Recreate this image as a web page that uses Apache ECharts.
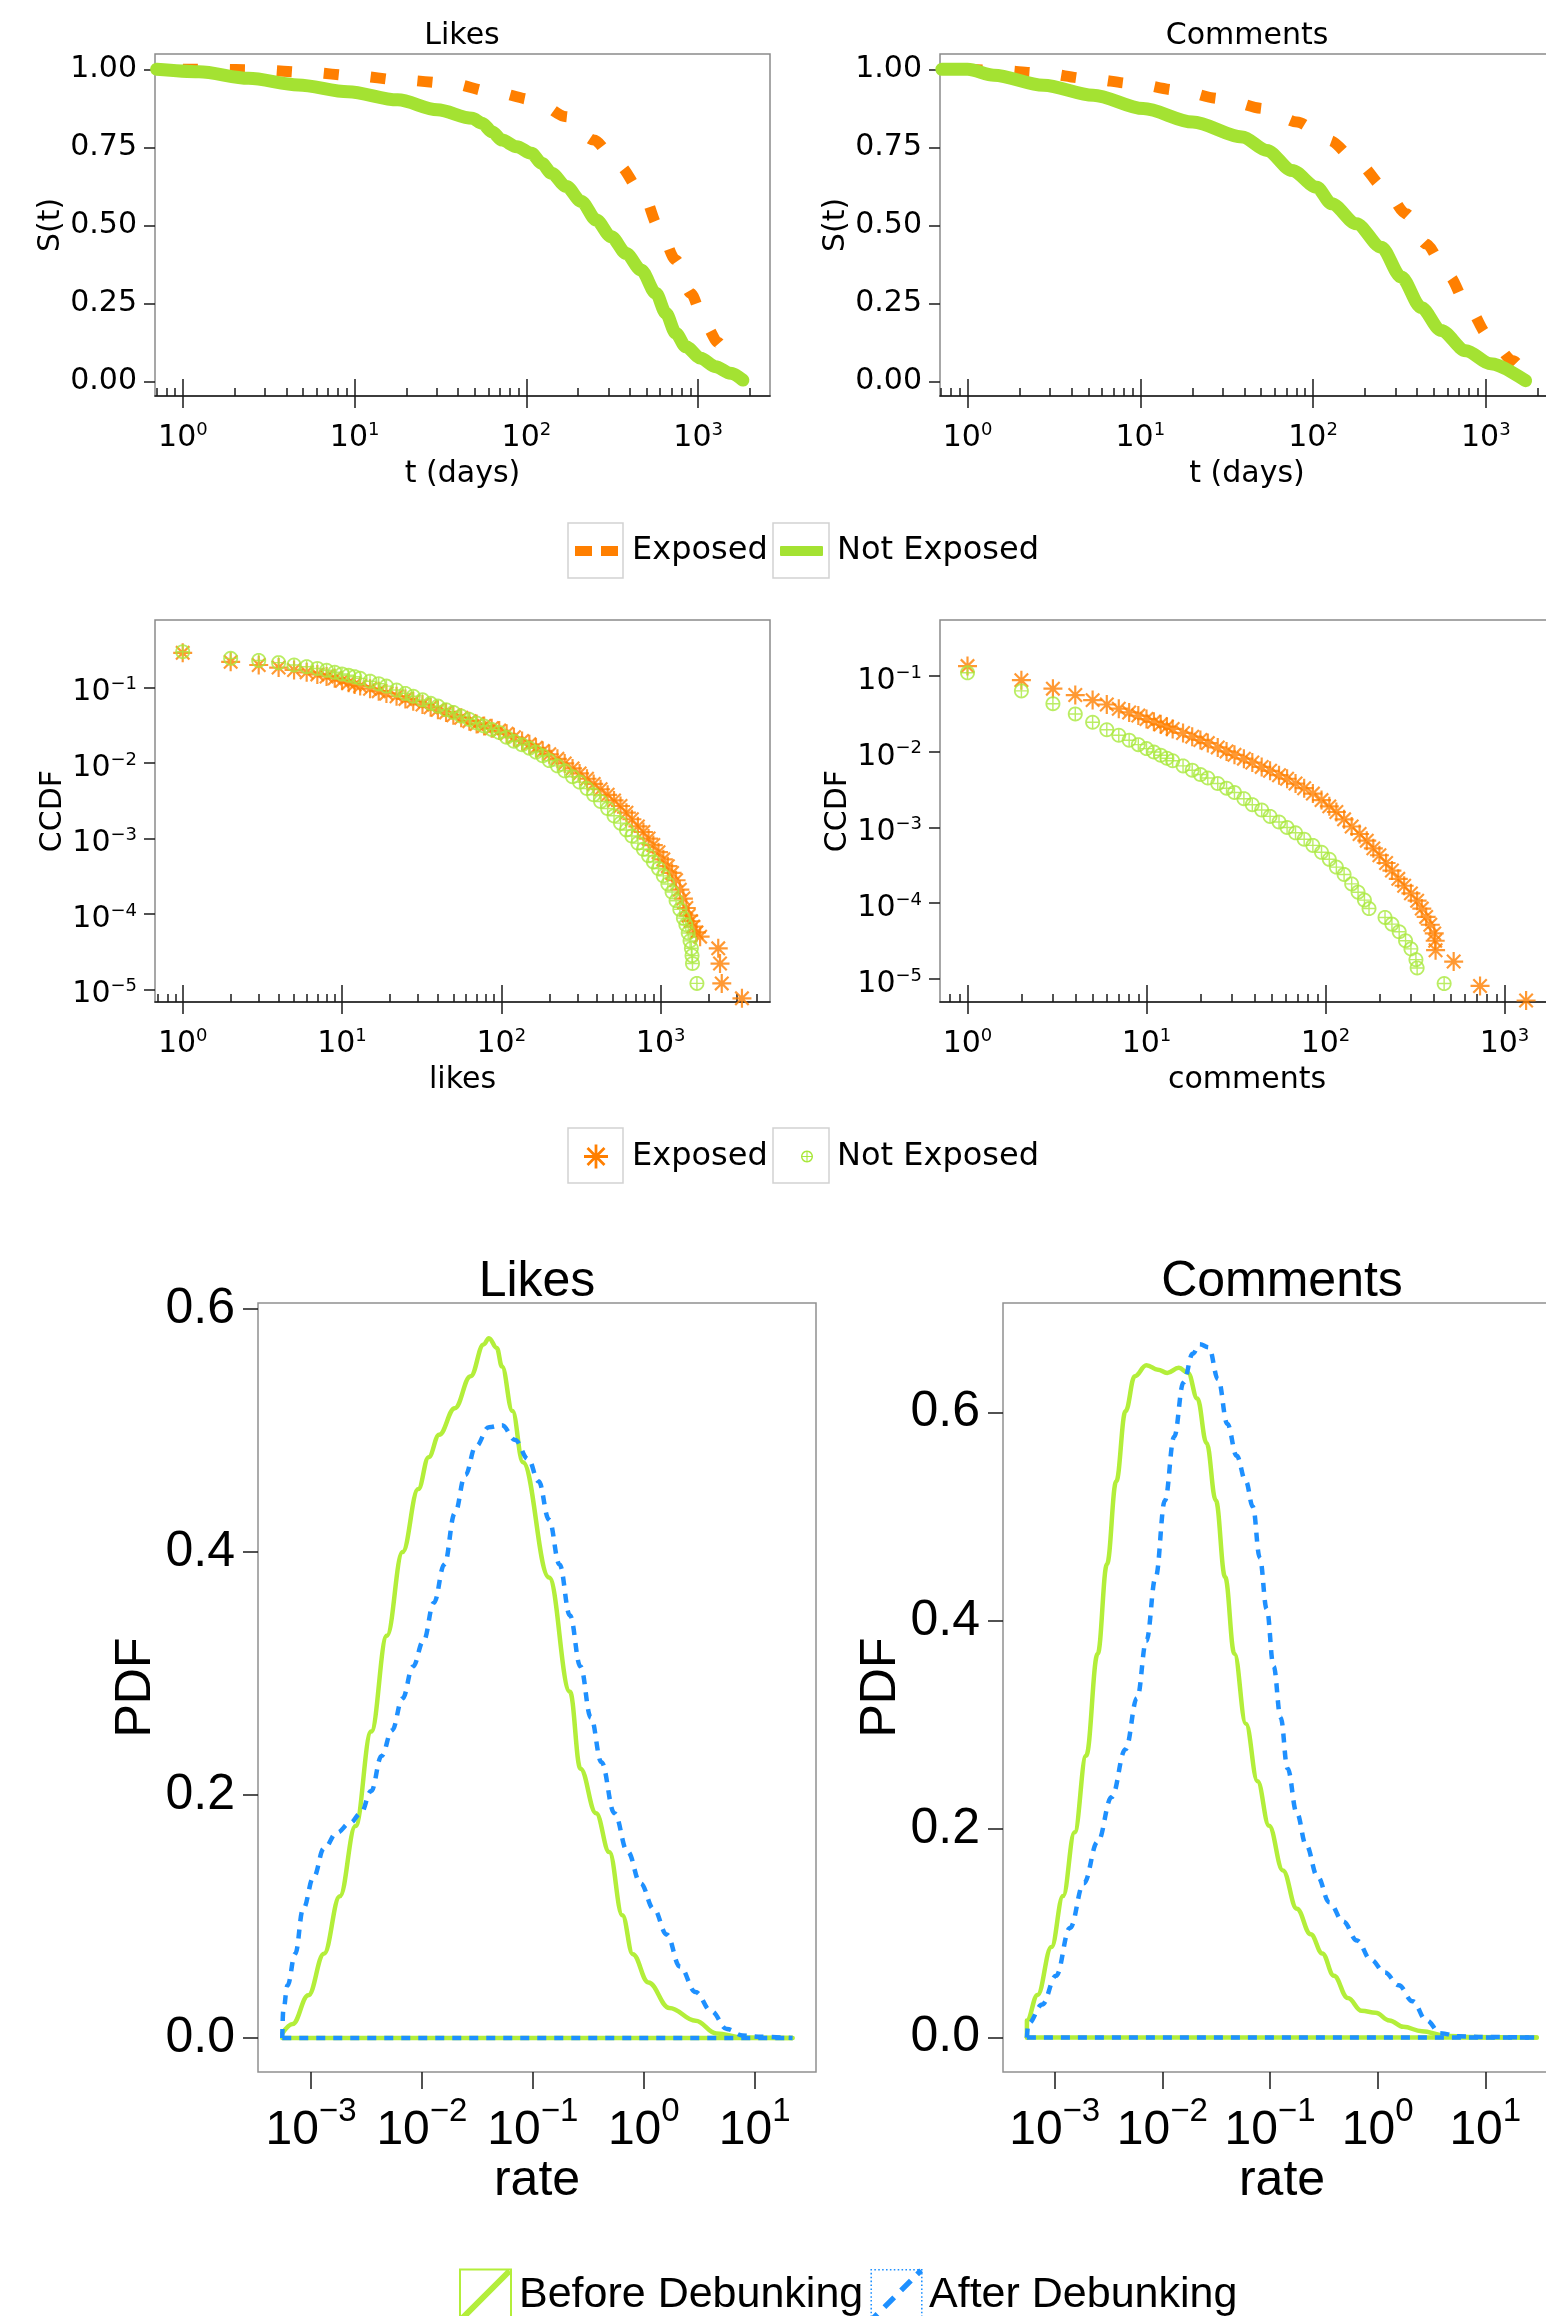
<!DOCTYPE html>
<html><head><meta charset="utf-8">
<script src="https://cdn.jsdelivr.net/npm/echarts@6/dist/echarts.min.js"></script>
<style>html,body{margin:0;padding:0;background:#fff}#c{width:1546px;height:2316px}</style>
</head><body><div id="c"></div>
<script>
// ================= DATA =================
const panelTitles = ['Likes', 'Comments'];
const survivalNames = ['Exposed', 'Not Exposed'];
const ccdfNames = ['Exposed (CCDF)', 'Not Exposed (CCDF)'];
const pdfNames = ['Before Debunking', 'After Debunking'];
const survivalYTicks = [0, 0.25, 0.5, 0.75, 1];
const topXExponents = [0, 1, 2, 3];
const ccdfYExponents = [-5, -4, -3, -2, -1];
const pdfXExponents = [-3, -2, -1, 0, 1];
const pdfYTicks = [0, 0.2, 0.4, 0.6];

// S(t) survival curves  [t (days), S(t)]
const survLikesExposed = [[1.0,1.0],[1.5,1.0],[2.76,0.998],[5.37,0.99],[10.1,0.979],[18.4,0.966],[35.8,0.955],[63,0.928],[111,0.902],[171,0.848],[247,0.773],[344,0.693],[481,0.597],[587,0.496],[741,0.389],[904,0.282],[1106,0.18],[1306,0.125],[1492,0.074],[1649,0.015]];
const survLikesNotExposed = [[0.703,1.0],[1.24,0.992],[2.41,0.971],[4.69,0.95],[9.14,0.928],[17.8,0.902],[30.3,0.87],[48.3,0.843],[55.2,0.827],[63.1,0.80],[72,0.773],[87.9,0.752],[107,0.731],[122.7,0.699],[140,0.667],[171,0.624],[209,0.576],[255,0.517],[312,0.463],[381,0.41],[465,0.357],[568,0.282],[649,0.218],[741,0.154],[847,0.111],[1035,0.074],[1262,0.047],[1543,0.026],[1821,0.004]];
const survCommentsExposed = [[1.0,1.0],[1.47,0.997],[2.66,0.988],[5.0,0.97],[9.1,0.954],[16.5,0.933],[28.9,0.906],[52.5,0.874],[80.7,0.831],[124,0.772],[185,0.697],[257,0.622],[346,0.537],[451,0.44],[608,0.339],[792,0.237],[1032,0.147],[1438,0.066],[1754,0.002]];
const survCommentsNotExposed = [[0.71,1.0],[1.0,1.0],[1.42,0.981],[2.75,0.949],[5.34,0.917],[10.4,0.874],[20.1,0.831],[38.9,0.783],[54,0.74],[75.5,0.676],[105,0.622],[128,0.569],[178,0.505],[248,0.43],[324,0.334],[422,0.237],[550,0.163],[766,0.098],[1067,0.056],[1698,0.002]];

// CCDF  [count, CCDF]
const ccdfLikesExposed = [[1,0.29],[2,0.22],[3,0.2],[4,0.185],[5,0.172],[6,0.16],[7,0.15],[8,0.141],[9,0.133],[10,0.124],[11,0.116],[12,0.11],[13,0.105],[15,0.097],[17,0.09],[19,0.084],[22,0.077],[25,0.071],[28,0.066],[32,0.06],[36,0.055],[40,0.051],[45,0.047],[50,0.043],[56,0.04],[63,0.036],[70,0.033],[78,0.031],[87,0.029],[97,0.027],[108,0.0245],[120,0.022],[135,0.0197],[150,0.0178],[165,0.016],[182,0.0145],[200,0.0131],[225,0.0114],[250,0.0099],[280,0.0085],[310,0.0073],[345,0.0062],[380,0.0053],[420,0.0045],[465,0.0038],[510,0.0032],[560,0.0027],[610,0.0022],[660,0.0018],[720,0.00145],[780,0.00122],[840,0.001],[900,8.2e-4],[970,6.6e-4],[1040,5.3e-4],[1110,4.3e-4],[1180,3.5e-4],[1250,2.8e-4],[1320,2.1e-4],[1390,1.6e-4],[1450,1.2e-4],[1500,9.5e-5],[1550,8e-5],[1600,6.8e-5],[1680,5.7e-5],[1770,5e-5],[2300,3.5e-5],[2360,2.2e-5],[2420,1.2e-5],[3240,7.6e-6]];
const ccdfLikesNotExposed = [[1,0.30],[2,0.245],[3,0.23],[4,0.215],[5,0.2],[6,0.19],[7,0.18],[8,0.17],[9,0.16],[10,0.152],[11,0.146],[12,0.14],[13,0.133],[15,0.122],[17,0.113],[19,0.105],[22,0.093],[25,0.084],[28,0.077],[32,0.069],[36,0.062],[40,0.057],[45,0.051],[50,0.047],[56,0.042],[63,0.038],[70,0.034],[78,0.031],[87,0.028],[97,0.0255],[108,0.022],[120,0.0195],[135,0.0175],[150,0.0158],[165,0.014],[182,0.0125],[200,0.0108],[225,0.0092],[250,0.0079],[280,0.0066],[310,0.0056],[345,0.0046],[380,0.0038],[420,0.0031],[465,0.0025],[510,0.002],[560,0.0016],[610,0.0013],[660,0.00108],[720,8.7e-4],[780,7.2e-4],[840,5.9e-4],[900,4.9e-4],[970,4.0e-4],[1040,3.2e-4],[1110,2.5e-4],[1180,1.95e-4],[1250,1.5e-4],[1320,1.15e-4],[1390,8.8e-5],[1440,7.2e-5],[1490,5.6e-5],[1530,4.4e-5],[1560,3.5e-5],[1575,2.8e-5],[1585,2.2e-5],[1690,1.2e-5]];
const ccdfCommentsExposed = [[1,0.135],[2,0.088],[3,0.068],[4,0.056],[5,0.048],[6,0.042],[7,0.037],[8,0.033],[9,0.03],[10,0.027],[11,0.0248],[12,0.023],[13,0.0214],[14,0.02],[16,0.0177],[18,0.0158],[20,0.0143],[22,0.013],[25,0.0114],[28,0.0101],[31,0.0091],[35,0.0081],[39,0.0072],[44,0.0063],[49,0.0056],[55,0.0049],[61,0.0044],[68,0.0038],[76,0.0033],[85,0.0028],[95,0.0023],[105,0.0019],[115,0.0016],[127,0.00128],[140,0.00103],[155,8.2e-4],[170,6.7e-4],[185,5.3e-4],[200,4.3e-4],[218,3.4e-4],[235,2.7e-4],[255,2.1e-4],[275,1.7e-4],[300,1.35e-4],[325,1.08e-4],[345,8.5e-5],[365,6.6e-5],[385,5.2e-5],[405,4e-5],[410,3.2e-5],[412,2.4e-5],[520,1.7e-5],[730,8.1e-6],[1320,5.2e-6]];
const ccdfCommentsNotExposed = [[1,0.11],[2,0.0635],[3,0.043],[4,0.0315],[5,0.0245],[6,0.0195],[7,0.0165],[8,0.0142],[9,0.0124],[10,0.011],[11,0.0099],[12,0.009],[13,0.0082],[14,0.0076],[16,0.0065],[18,0.0057],[20,0.005],[22,0.0045],[25,0.0038],[28,0.0033],[31,0.0029],[35,0.0024],[39,0.002],[44,0.0017],[49,0.0014],[55,0.00118],[61,0.001],[68,8.5e-4],[76,7e-4],[85,5.8e-4],[95,4.7e-4],[105,3.8e-4],[115,3.0e-4],[127,2.4e-4],[140,1.8e-4],[152,1.4e-4],[165,1.1e-4],[175,8.5e-5],[215,6.5e-5],[235,5.3e-5],[258,4.2e-5],[280,3.2e-5],[300,2.5e-5],[320,1.8e-5],[325,1.4e-5],[460,8.7e-6]];

// PDF of rates  [rate, density]
const pdfLikesBefore = [[5.51e-4,0.0037],[6.84e-4,0.0116],[9.47e-4,0.0352],[1.31e-3,0.0694],[1.82e-3,0.1167],[2.52e-3,0.1744],[3.49e-3,0.2522],[4.83e-3,0.3311],[6.69e-3,0.400],[9.27e-3,0.4518],[0.0115,0.4781],[0.0143,0.4965],[0.0198,0.5184],[0.0275,0.5447],[0.036,0.5709],[0.0402,0.576],[0.0473,0.568],[0.0527,0.5527],[0.0655,0.516],[0.0813,0.474],[0.140,0.379],[0.216,0.285],[0.2686,0.2217],[0.372,0.185],[0.489,0.153],[0.641,0.101],[0.796,0.069],[1.10,0.0457],[1.70,0.0247],[2.93,0.0142],[4.53,0.0037],[7.8,0.0005],[21.9,0]];
const pdfLikesAfter = [[5.51e-4,0],[5.62e-4,0.0221],[6.14e-4,0.0431],[7.22e-4,0.0694],[8.49e-4,0.1061],[1.056e-3,0.1324],[1.31e-3,0.156],[1.72e-3,0.1692],[2.26e-3,0.1771],[2.81e-3,0.185],[3.49e-3,0.2033],[4.33e-3,0.2322],[5.38e-3,0.2532],[6.69e-3,0.2795],[8.31e-3,0.3058],[0.01033,0.3268],[0.01283,0.3583],[0.01595,0.3898],[0.0198,0.4319],[0.0246,0.4634],[0.0306,0.487],[0.0402,0.5028],[0.0527,0.5044],[0.0692,0.4923],[0.0908,0.4765],[0.1128,0.4582],[0.140,0.4266],[0.174,0.3898],[0.216,0.3478],[0.2686,0.3058],[0.334,0.2637],[0.415,0.227],[0.544,0.185],[0.715,0.1534],[0.938,0.1271],[1.231,0.1061],[1.615,0.0851],[2.115,0.0588],[2.93,0.0378],[4.06,0.0221],[5.62,0.0074],[7.8,0.0021],[10.8,0.001],[21.9,0]];
const pdfCommentsBefore = [[5.52e-4,0],[5.52e-4,0.0165],[6.93e-4,0.041],[9.33e-4,0.0869],[1.195e-3,0.1359],[1.531e-3,0.1971],[1.96e-3,0.2706],[2.51e-3,0.3685],[3.06e-3,0.4543],[3.73e-3,0.5338],[4.55e-3,0.6012],[5.55e-3,0.6348],[7.11e-3,0.6453],[9.1e-3,0.641],[0.0111,0.6379],[0.01422,0.6428],[0.01734,0.6379],[0.02113,0.6134],[0.02576,0.5706],[0.0314,0.5155],[0.0383,0.442],[0.0467,0.3685],[0.0597,0.3012],[0.0766,0.2461],[0.098,0.2033],[0.1318,0.1604],[0.1775,0.1237],[0.2388,0.0992],[0.306,0.0808],[0.3926,0.0594],[0.528,0.038],[0.711,0.0257],[0.957,0.0239],[1.288,0.0165],[1.733,0.0104],[2.576,0.0061],[4.23,0.0018],[6.93,0.0006],[30,0]];
const pdfCommentsAfter = [[5.52e-4,0],[5.69e-4,0.0135],[7.66e-4,0.0318],[1.03e-3,0.0594],[1.387e-3,0.1053],[1.866e-3,0.1482],[2.51e-3,0.188],[3.38e-3,0.2308],[4.55e-3,0.2767],[5.83e-3,0.3257],[7.11e-3,0.3808],[8.67e-3,0.442],[0.01057,0.5155],[0.01288,0.5767],[0.0157,0.6287],[0.01914,0.6563],[0.0222,0.6655],[0.02704,0.6624],[0.033,0.6318],[0.0402,0.5889],[0.049,0.5583],[0.0597,0.5338],[0.0693,0.5094],[0.0804,0.4604],[0.0933,0.4114],[0.108,0.3563],[0.1256,0.3073],[0.1456,0.2583],[0.1775,0.2155],[0.2163,0.1849],[0.2773,0.1543],[0.3554,0.1298],[0.479,0.1114],[0.644,0.0931],[0.867,0.0747],[1.167,0.0624],[1.57,0.0502],[2.113,0.0349],[2.844,0.0165],[3.83,0.0043],[5.69,0.0012],[10.3,0.0006],[30,0]];
const pdfLikesBaseline = [[5.51e-4,0],[21.9,0]];
const pdfCommentsBaseline = [[5.52e-4,0],[30,0]];

// ================= STYLE / LAYOUT =================
const ORANGE = '#ff7f00', GREEN_TOP = '#a4e232', GREEN_CCDF = '#a9e83c', GREEN_PDF = '#b3ee3a', BLUE = '#1e90ff';
const TOPF = 'DejaVu Sans', BOTF = 'Liberation Sans';
const TICK = {color:'#1a1a1a', width:1.5};
const lg = Math.log10;

const grids = [
  {left:155, top:54, width:615, height:342},
  {left:940, top:54, width:614, height:342},
  {left:155, top:620, width:615, height:382},
  {left:940, top:620, width:614, height:382},
  {left:258, top:1303, width:558, height:769},
  {left:1003, top:1303, width:558, height:769}
].map((g, i) => Object.assign({show:true, backgroundColor:'transparent', borderColor: i < 4 ? '#8a8a8a' : '#909090', borderWidth:1.5, containLabel:false, outerBoundsMode:'none'}, g));

const ranges = {
  x: [[0.688,2620],[0.693,2480],[0.670,4860],[0.702,1890],[3.33e-4,35.7],[3.31e-4,50.5]],
  y: [[-0.047,1.049],[-0.047,1.049],[6.8e-6,0.79],[4.97e-6,0.548],[-0.028,0.605],[-0.033,0.705]]
};

const supText = e => (e < 0 ? '\u2212' + (-e) : '' + e);
const powLabel = v => '{b|10}{s|' + supText(Math.round(v)) + '}';
const topRich = () => ({b:{fontFamily:TOPF,fontSize:30,lineHeight:34,color:'#000'}, s:{fontFamily:TOPF,fontSize:18,lineHeight:19,verticalAlign:'top',color:'#000'}});
const botRich = () => ({b:{fontFamily:BOTF,fontSize:48,lineHeight:72,color:'#000'}, s:{fontFamily:BOTF,fontSize:33,lineHeight:33,verticalAlign:'top',color:'#000'}});
function minorLog(lo, hi) {
  const out = [];
  for (let k = Math.floor(lg(lo)); k <= Math.ceil(lg(hi)); k++)
    for (let m = 2; m <= 9; m++) { const v = m * Math.pow(10, k); if (v > lo && v < hi) out.push(lg(v)); }
  return out;
}

const xAxes = [], yAxes = [], series = [];
const addX = o => (xAxes.push(o), xAxes.length - 1);
const addY = o => (yAxes.push(o), yAxes.length - 1);
const NOLINE = {show:false, onZero:false};
function decoX(g, lo, hi, opt) {
  return Object.assign({type:'value', gridIndex:g, min:lo, max:hi, position:'bottom', silent:true,
    splitLine:{show:false}, splitArea:{show:false}, axisLine:NOLINE, axisTick:{show:false}, axisLabel:{show:false}}, opt);
}
function decoY(g, lo, hi, opt) {
  return Object.assign({type:'value', gridIndex:g, min:lo, max:hi, position:'left', silent:true,
    splitLine:{show:false}, splitArea:{show:false}, axisLine:NOLINE, axisTick:{show:false}, axisLabel:{show:false}}, opt);
}
const topName = (t) => ({name:t, nameLocation:'middle', nameTextStyle:{fontFamily:TOPF, fontSize:30, lineHeight:30, color:'#000', fontWeight:'normal'}});

function logXTop(g, xName) {
  const xr = ranges.x[g], lo = lg(xr[0]), hi = lg(xr[1]);
  const xd = addX({type:'log', logBase:10, gridIndex:g, min:xr[0], max:xr[1], position:'bottom', show:false, axisLine:NOLINE});
  addX(decoX(g, lo, hi, Object.assign({
    axisLine:{show:true, onZero:false, lineStyle:{color:'#1a1a1a', width:1.6}},
    axisTick:{show:true, inside:false, length:12, customValues:topXExponents, lineStyle:TICK},
    axisLabel:{show:true, customValues:topXExponents, margin:25, formatter:powLabel, rich:topRich()},
    nameGap:63}, topName(xName))));
  addX(decoX(g, lo, hi, {axisTick:{show:true, inside:true, length:17, customValues:topXExponents, lineStyle:TICK}}));
  addX(decoX(g, lo, hi, {axisTick:{show:true, inside:true, length:8, customValues:minorLog(xr[0], xr[1]), lineStyle:TICK}}));
  return xd;
}

function survivalPanel(g, exposed, notExposed) {
  const xd = logXTop(g, 't (days)');
  const yr = ranges.y[g];
  const yd = addY(Object.assign({type:'value', gridIndex:g, min:yr[0], max:yr[1], position:'left', splitLine:{show:false},
    axisLine:NOLINE, axisTick:{show:true, inside:false, length:11, customValues:survivalYTicks, lineStyle:TICK},
    axisLabel:{show:true, customValues:survivalYTicks, margin:18, padding:[6,0,0,0], formatter:v => v.toFixed(2), fontFamily:TOPF, fontSize:30, color:'#000'},
    nameGap:83}, topName('S(t)')));
  series.push({name:survivalNames[0], type:'line', xAxisIndex:xd, yAxisIndex:yd, data:exposed, symbol:'none', showSymbol:false,
    smooth:0.3, smoothMonotone:'x', itemStyle:{color:ORANGE}, lineStyle:{color:ORANGE, width:11, type:[15,32], cap:'butt'}, z:2});
  series.push({name:survivalNames[1], type:'line', xAxisIndex:xd, yAxisIndex:yd, data:notExposed, symbol:'none', showSymbol:false,
    smooth:0.3, smoothMonotone:'x', itemStyle:{color:GREEN_TOP}, lineStyle:{color:GREEN_TOP, width:13, cap:'round'}, z:3});
}

// ---------- symbol paths ----------
function polyPath(pts, positive) {
  let a = 0;
  for (let i = 0; i < pts.length; i++) { const p = pts[i], q = pts[(i + 1) % pts.length]; a += p[0] * q[1] - q[0] * p[1]; }
  if ((a > 0) !== positive) pts = pts.slice().reverse();
  return 'M' + pts.map(p => p[0].toFixed(2) + ' ' + p[1].toFixed(2)).join(' L') + ' Z';
}
function barPts(cx, cy, half, w, ang) {
  const c = Math.cos(ang), s = Math.sin(ang), hw = w / 2;
  return [[-half,-hw],[half,-hw],[half,hw],[-half,hw]].map(([u, v]) => [cx + u * c - v * s, cy + u * s + v * c]);
}
function circlePts(cx, cy, r, n) { const a = []; for (let i = 0; i < n; i++) { const t = 2 * Math.PI * i / n; a.push([cx + r * Math.cos(t), cy + r * Math.sin(t)]); } return a; }
function segPts(x1, y1, x2, y2, w) { const dx = x2 - x1, dy = y2 - y1, L = Math.hypot(dx, dy), nx = -dy / L * w / 2, ny = dx / L * w / 2; return [[x1+nx,y1+ny],[x2+nx,y2+ny],[x2-nx,y2-ny],[x1-nx,y1-ny]]; }
const asteriskPath = 'path://' + [0, 45, 90, 135].map(d => polyPath(barPts(10, 10, 10, 2.3, d * Math.PI / 180), true)).join(' ');
const circlePlusPath = 'path://' + [polyPath(circlePts(10,10,10,28), true), polyPath(circlePts(10,10,7.6,28), false),
  polyPath(barPts(10,10,8,1.9,0), true), polyPath(barPts(10,10,8,1.9,Math.PI/2), true)].join(' ');
const dashIcon = 'path://M0 0 L17 0 L17 10 L0 10 Z M26 0 L43 0 L43 10 L26 10 Z';
const barIcon = 'path://M1 0 L42 0 Q43 0 43 1 L43 9 Q43 10 42 10 L1 10 Q0 10 0 9 L0 1 Q0 0 1 0 Z';
const greenKey = 'path://' + polyPath([[0,0],[53,0],[53,53],[0,53]], true) + ' ' + polyPath([[2,2],[51,2],[51,51],[2,51]], false) + ' ' + polyPath(segPts(2.5,50.5,50.5,2.5,6), true);
const blueKey = (function () {
  const parts = [], s = 1.6, n = 14;
  for (let i = 0; i < n; i++) {
    const p = i * (53 - s) / (n - 1);
    [[p,0],[p,53-s],[0,p],[53-s,p]].forEach(([x, y]) => parts.push(polyPath([[x,y],[x+s,y],[x+s,y+s],[x,y+s]], true)));
  }
  const A = [1.5,51.5], B = [51.5,1.5], L = Math.hypot(B[0]-A[0], B[1]-A[1]);
  [[0,8],[18,32],[42,56],[65,L]].forEach(([t0, t1]) => {
    const P = t => [A[0] + (B[0]-A[0]) * t / L, A[1] + (B[1]-A[1]) * t / L];
    const p0 = P(t0), p1 = P(t1);
    parts.push(polyPath(segPts(p0[0], p0[1], p1[0], p1[1], 5.5), true));
  });
  return 'path://' + parts.join(' ');
})();

function ccdfPanel(g, xName, exposed, notExposed) {
  const xd = logXTop(g, xName);
  const yr = ranges.y[g], lo = lg(yr[0]), hi = lg(yr[1]);
  const yd = addY({type:'log', logBase:10, gridIndex:g, min:yr[0], max:yr[1], position:'left', show:false, axisLine:NOLINE});
  addY(decoY(g, lo, hi, Object.assign({
    axisTick:{show:true, inside:false, length:11, customValues:ccdfYExponents, lineStyle:TICK},
    axisLabel:{show:true, customValues:ccdfYExponents, margin:18, padding:[10,0,0,0], formatter:powLabel, rich:topRich()},
    nameGap:86}, topName('CCDF'))));
  series.push({name:ccdfNames[0], type:'scatter', xAxisIndex:xd, yAxisIndex:yd, data:exposed, symbol:asteriskPath, symbolSize:19,
    itemStyle:{color:ORANGE, borderWidth:0}, z:2});
  series.push({name:ccdfNames[1], type:'scatter', xAxisIndex:xd, yAxisIndex:yd, data:notExposed, symbol:circlePlusPath, symbolSize:15,
    itemStyle:{color:GREEN_CCDF, borderWidth:0}, z:3});
}

function pdfPanel(g, before, after, baseline) {
  const xr = ranges.x[g], yr = ranges.y[g];
  const xd = addX({type:'log', logBase:10, gridIndex:g, min:xr[0], max:xr[1], position:'bottom', show:false, axisLine:NOLINE});
  addX(decoX(g, lg(xr[0]), lg(xr[1]), {
    axisTick:{show:true, inside:false, length:17, customValues:pdfXExponents, lineStyle:TICK},
    axisLabel:{show:true, customValues:pdfXExponents, margin:23, formatter:powLabel, rich:botRich()},
    name:'rate', nameLocation:'middle', nameGap:78, nameTextStyle:{fontFamily:BOTF, fontSize:50, lineHeight:50, color:'#000'}}));
  const yd = addY({type:'value', gridIndex:g, min:yr[0], max:yr[1], position:'left', splitLine:{show:false}, axisLine:NOLINE,
    axisTick:{show:true, inside:false, length:15, customValues:pdfYTicks, lineStyle:TICK},
    axisLabel:{show:true, customValues:pdfYTicks, margin:23, padding:[8,0,0,0], formatter:v => v.toFixed(1), fontFamily:BOTF, fontSize:50, color:'#000'},
    name:'PDF', nameLocation:'middle', nameGap:92, nameTextStyle:{fontFamily:BOTF, fontSize:50, lineHeight:50, color:'#000'}});
  const gs = {color:GREEN_PDF, width:4.5, cap:'round', join:'round'};
  const bs = {color:BLUE, width:4.5, type:[9,8], cap:'butt'};
  series.push({name:pdfNames[0], type:'line', xAxisIndex:xd, yAxisIndex:yd, data:before, symbol:'none', showSymbol:false, smooth:0.4, smoothMonotone:'x', itemStyle:{color:GREEN_PDF}, lineStyle:gs, z:2});
  series.push({name:pdfNames[0], type:'line', xAxisIndex:xd, yAxisIndex:yd, data:baseline, symbol:'none', showSymbol:false, itemStyle:{color:GREEN_PDF}, lineStyle:gs, z:2});
  series.push({name:pdfNames[1], type:'line', xAxisIndex:xd, yAxisIndex:yd, data:after, symbol:'none', showSymbol:false, smooth:0.4, smoothMonotone:'x', itemStyle:{color:BLUE}, lineStyle:bs, z:3});
  series.push({name:pdfNames[1], type:'line', xAxisIndex:xd, yAxisIndex:yd, data:baseline, symbol:'none', showSymbol:false, itemStyle:{color:BLUE}, lineStyle:bs, z:3});
}

survivalPanel(0, survLikesExposed, survLikesNotExposed);
survivalPanel(1, survCommentsExposed, survCommentsNotExposed);
ccdfPanel(2, 'likes', ccdfLikesExposed, ccdfLikesNotExposed);
ccdfPanel(3, 'comments', ccdfCommentsExposed, ccdfCommentsNotExposed);
pdfPanel(4, pdfLikesBefore, pdfLikesAfter, pdfLikesBaseline);
pdfPanel(5, pdfCommentsBefore, pdfCommentsAfter, pdfCommentsBaseline);

function legendOne(name, icon, color, left, top, w, h, font, size, lh, pad) {
  return {show:true, data:[name], left, top, orient:'horizontal', padding:0, itemGap:0, itemWidth:w, itemHeight:h, icon,
    symbolKeepAspect:false, selectedMode:false, itemStyle:{color, borderWidth:0, opacity:1}, lineStyle:{width:0, opacity:0},
    formatter: n => n.replace(' (CCDF)', ''),
    textStyle:{fontFamily:font, fontSize:size, lineHeight:lh, color:'#000', padding:[0,0,0,pad]}};
}
const legends = [
  legendOne(survivalNames[0], dashIcon, ORANGE, 575, 531, 43, 10, TOPF, 32, 40, 9),
  legendOne(survivalNames[1], barIcon, GREEN_TOP, 780, 531, 43, 10, TOPF, 32, 40, 9),
  legendOne(ccdfNames[0], asteriskPath, ORANGE, 584, 1136.5, 24, 24, TOPF, 32, 40, 19),
  legendOne(ccdfNames[1], circlePlusPath, GREEN_CCDF, 801, 1136.5, 12, 12, TOPF, 32, 40, 19),
  legendOne(pdfNames[0], greenKey, GREEN_PDF, 459, 2268.5, 53, 53, BOTF, 43, 50, 2),
  legendOne(pdfNames[1], blueKey, BLUE, 870, 2268.5, 53, 53, BOTF, 43, 50, 1)
];

const frame = (x, y, w, h) => ({type:'rect', shape:{x, y, width:w, height:h}, style:{fill:'none', stroke:'#d2d2d2', lineWidth:1.5}, silent:true});
const titleStyle = (f, s) => ({fontFamily:f, fontSize:s, lineHeight:s, fontWeight:'normal', color:'#000'});

const chart = echarts.init(document.getElementById('c'), null, {renderer:'canvas'});
chart.setOption({
  animation:false,
  backgroundColor:'#ffffff',
  title:[
    {text:panelTitles[0], left:462, top:21, textAlign:'center', padding:0, textStyle:titleStyle(TOPF, 30)},
    {text:panelTitles[1], left:1247, top:21, textAlign:'center', padding:0, textStyle:titleStyle(TOPF, 30)},
    {text:panelTitles[0], left:537, top:1257, textAlign:'center', padding:0, textStyle:titleStyle(BOTF, 50)},
    {text:panelTitles[1], left:1282, top:1257, textAlign:'center', padding:0, textStyle:titleStyle(BOTF, 50)}
  ],
  grid:grids,
  xAxis:xAxes,
  yAxis:yAxes,
  legend:legends,
  graphic:[frame(568,523,55,55), frame(773,523,56,55), frame(568,1128,55,55), frame(773,1128,56,55)],
  tooltip:{show:false},
  series:series
});
</script>
</body></html>
